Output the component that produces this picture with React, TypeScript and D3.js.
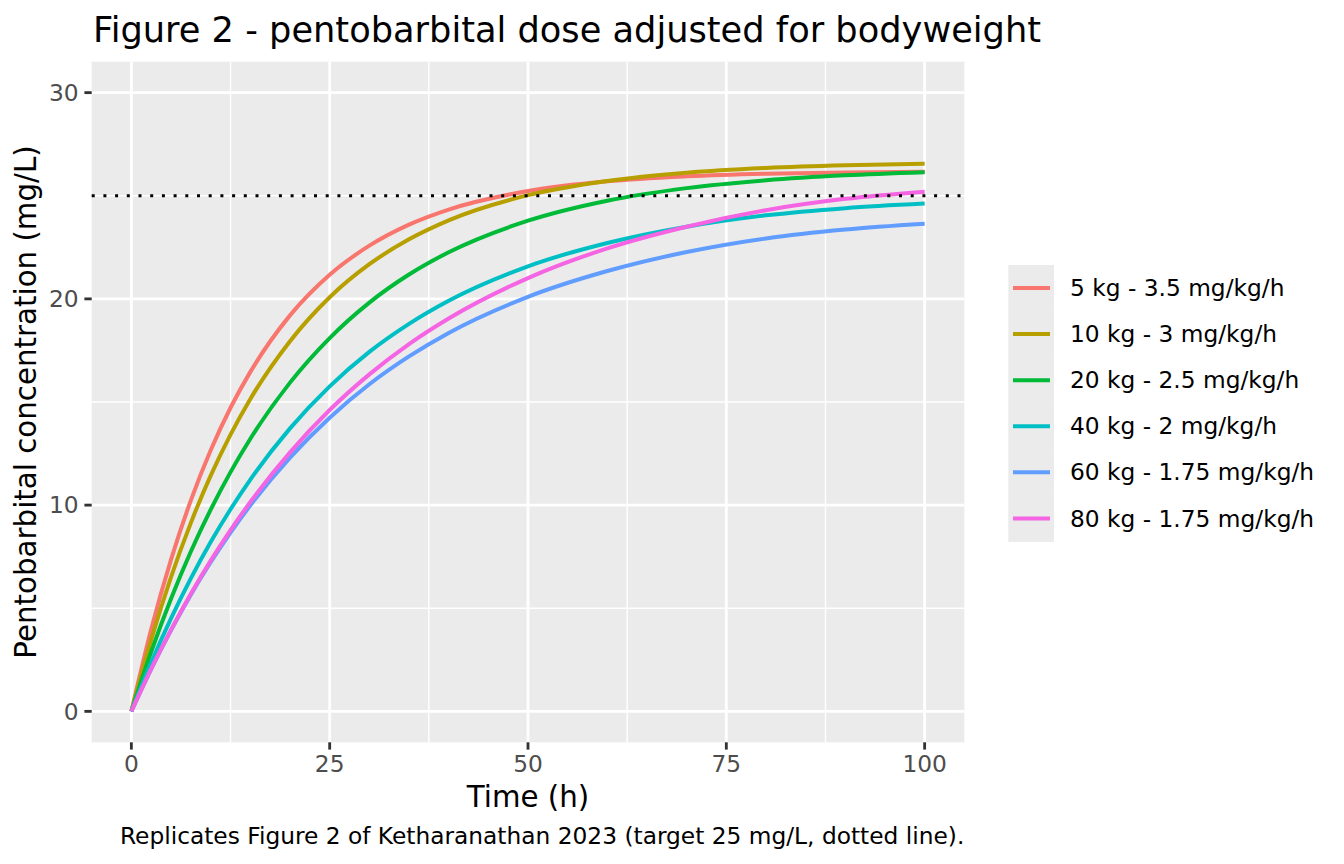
import React from "react";
import * as d3 from "d3";

const timeH = [0, 2.5, 5, 7.5, 10, 12.5, 15, 20, 25, 30, 35, 40, 50, 60, 70, 80, 90, 100];

const kg5 = [0, 3.98, 7.36, 10.23, 12.66, 14.72, 16.46, 19.2, 21.17, 22.58, 23.6, 24.33, 25.23, 25.7, 25.94, 26.07, 26.13, 26.16];
const kg10 = [0, 3.48, 6.51, 9.14, 11.43, 13.42, 15.15, 17.95, 20.08, 21.68, 22.89, 23.81, 25.03, 25.72, 26.12, 26.35, 26.48, 26.55];
const kg20 = [0, 2.89, 5.46, 7.75, 9.78, 11.6, 13.22, 15.94, 18.1, 19.82, 21.18, 22.26, 23.79, 24.76, 25.37, 25.75, 25.99, 26.14];
const kg40 = [0, 2.37, 4.51, 6.45, 8.21, 9.8, 11.24, 13.72, 15.76, 17.43, 18.79, 19.91, 21.58, 22.71, 23.5, 24.05, 24.4, 24.62];
const kg60 = [0, 2.05, 3.93, 5.66, 7.23, 8.67, 9.99, 12.3, 14.24, 15.86, 17.21, 18.35, 20.1, 21.35, 22.27, 22.93, 23.36, 23.64];
const kg80 = [0, 2.06, 3.95, 5.7, 7.31, 8.79, 10.15, 12.56, 14.61, 16.34, 17.81, 19.05, 21.01, 22.45, 23.5, 24.3, 24.85, 25.2];

const seriesLabels = [
  "5 kg - 3.5 mg/kg/h",
  "10 kg - 3 mg/kg/h",
  "20 kg - 2.5 mg/kg/h",
  "40 kg - 2 mg/kg/h",
  "60 kg - 1.75 mg/kg/h",
  "80 kg - 1.75 mg/kg/h",
];
const seriesValues = [kg5, kg10, kg20, kg40, kg60, kg80];
const seriesColors = ["#F8766D", "#B79F00", "#00BA38", "#00BFC4", "#619CFF", "#F564E3"];

const xMajor = [0, 25, 50, 75, 100];
const xMinor = [12.5, 37.5, 62.5, 87.5];
const yMajor = [0, 10, 20, 30];
const yMinor = [5, 15, 25];
const targetLevel = 25;

const titleText = "Figure 2 - pentobarbital dose adjusted for bodyweight";
const xTitle = "Time (h)";
const yTitle = "Pentobarbital concentration (mg/L)";
const captionText = "Replicates Figure 2 of Ketharanathan 2023 (target 25 mg/L, dotted line).";

const W = 1344;
const H = 864;
const P = { left: 91.7, right: 964.3, top: 61.7, bottom: 742.3 };
const FONT = "DejaVu Sans, Verdana, sans-serif";

export default function App() {
  const x = d3.scaleLinear().domain([-5, 105]).range([P.left, P.right]);
  const y = d3.scaleLinear().domain([-1.5, 31.5]).range([P.bottom, P.top]);
  const line = d3
    .line<[number, number]>()
    .x((d) => x(d[0]))
    .y((d) => y(d[1]))
    .curve(d3.curveMonotoneX);

  const keyTop = 265;
  const keyH = 46.07;
  const keyL = 1008.3;
  const keyR = 1054;

  return (
    <svg
      width={W}
      height={H}
      style={{ position: "absolute", left: 0, top: 0, background: "#fff" }}
      fontFamily={FONT}
    >
      <rect x={0} y={0} width={W} height={H} fill="#ffffff" />
      {/* panel */}
      <rect x={P.left} y={P.top} width={P.right - P.left} height={P.bottom - P.top} fill="#EBEBEB" />
      {xMinor.map((v) => (
        <line key={"xm" + v} x1={x(v)} x2={x(v)} y1={P.top} y2={P.bottom} stroke="#fff" strokeWidth={1.42} />
      ))}
      {yMinor.map((v) => (
        <line key={"ym" + v} x1={P.left} x2={P.right} y1={y(v)} y2={y(v)} stroke="#fff" strokeWidth={1.42} />
      ))}
      {xMajor.map((v) => (
        <line key={"xM" + v} x1={x(v)} x2={x(v)} y1={P.top} y2={P.bottom} stroke="#fff" strokeWidth={2.83} />
      ))}
      {yMajor.map((v) => (
        <line key={"yM" + v} x1={P.left} x2={P.right} y1={y(v)} y2={y(v)} stroke="#fff" strokeWidth={2.83} />
      ))}
      {/* series */}
      {seriesValues.map((vals, i) => (
        <path
          key={"s" + i}
          d={line(timeH.map((t, j) => [t, vals[j]] as [number, number])) || ""}
          fill="none"
          stroke={seriesColors[i]}
          strokeWidth={4}
          strokeLinejoin="round"
        />
      ))}
      {/* target line */}
      <line
        x1={P.left}
        x2={P.right}
        y1={y(targetLevel)}
        y2={y(targetLevel)}
        stroke="#000"
        strokeWidth={3}
        strokeDasharray="3 8.7"
      />
      {/* axes ticks */}
      {xMajor.map((v) => (
        <g key={"xt" + v}>
          <line x1={x(v)} x2={x(v)} y1={P.bottom} y2={P.bottom + 7.3} stroke="#333333" strokeWidth={2.83} />
          <text x={x(v)} y={772} textAnchor="middle" fontSize={23.3} fill="#4D4D4D">
            {v}
          </text>
        </g>
      ))}
      {yMajor.map((v) => (
        <g key={"yt" + v}>
          <line x1={P.left - 7.3} x2={P.left} y1={y(v)} y2={y(v)} stroke="#333333" strokeWidth={2.83} />
          <text x={78.6} y={y(v)} dy="0.35em" textAnchor="end" fontSize={23.3} fill="#4D4D4D">
            {v}
          </text>
        </g>
      ))}
      {/* titles */}
      <text x={93} y={41.7} fontSize={35.2} fill="#000">
        {titleText}
      </text>
      <text x={(P.left + P.right) / 2} y={806.5} textAnchor="middle" fontSize={29.3} fill="#000">
        {xTitle}
      </text>
      <text
        transform={`translate(36,${(P.top + P.bottom) / 2}) rotate(-90)`}
        textAnchor="middle"
        fontSize={29.3}
        fill="#000"
      >
        {yTitle}
      </text>
      <text x={P.right} y={844} textAnchor="end" fontSize={23.3} fill="#000">
        {captionText}
      </text>
      {/* legend */}
      {seriesLabels.map((lab, i) => {
        const cy = keyTop + keyH * i + keyH / 2;
        return (
          <g key={"lg" + i}>
            <rect x={keyL} y={keyTop + keyH * i} width={keyR - keyL} height={keyH + 0.5} fill="#EBEBEB" />
            <line x1={1013} x2={1050} y1={cy} y2={cy} stroke={seriesColors[i]} strokeWidth={4} />
            <text x={1070} y={cy} dy="0.35em" fontSize={23.3} fill="#000">
              {lab}
            </text>
          </g>
        );
      })}
    </svg>
  );
}
